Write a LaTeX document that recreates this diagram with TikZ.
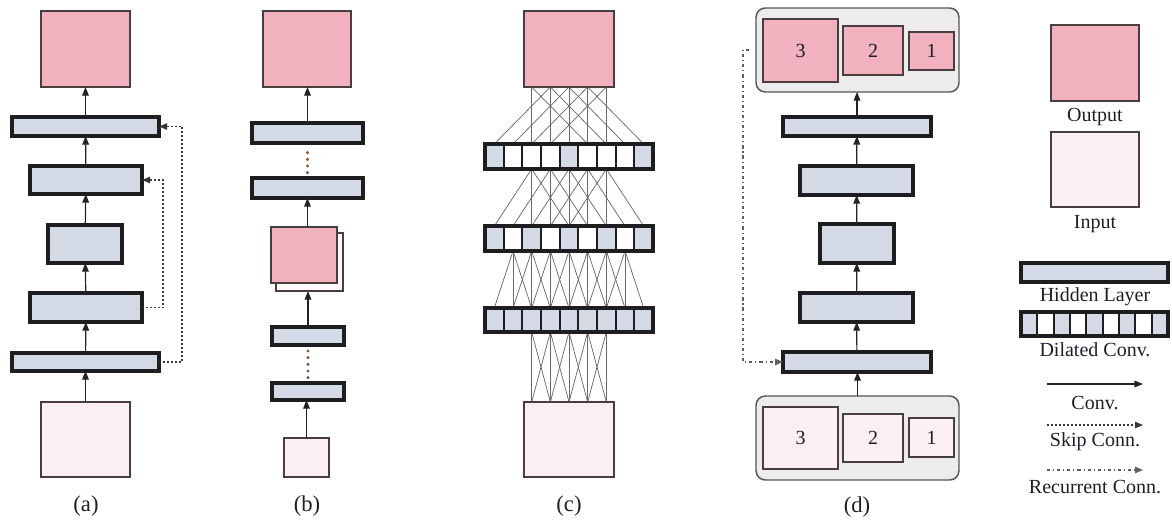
\documentclass[tikz,border=0pt]{standalone}
\usepackage{fontspec}
\setmainfont{Liberation Serif}
\usetikzlibrary{fit,arrows.meta}
\pgfdeclarelayer{background}
\pgfsetlayers{background,main}

\definecolor{outpink}{RGB}{242,177,191}
\definecolor{inpink}{RGB}{252,239,242}
\definecolor{backpink}{RGB}{254,248,249}
\definecolor{hidfill}{RGB}{212,217,230}
\definecolor{grpfill}{RGB}{236,236,236}
\definecolor{grpedge}{RGB}{85,85,85}
\definecolor{boxedge}{RGB}{72,62,64}
\definecolor{hidedge}{RGB}{30,30,32}
\definecolor{linkc}{RGB}{105,105,105}
\definecolor{arrowc}{RGB}{35,35,35}
\definecolor{skipc}{RGB}{55,55,55}
\definecolor{recurc}{RGB}{95,95,95}
\definecolor{dotc}{RGB}{140,85,55}
\definecolor{textc}{RGB}{30,30,40}

\begin{document}
\begin{tikzpicture}[x=0.75pt,y=-0.75pt,
  box/.style={inner sep=0pt,outer sep=0pt},
  digit/.style={text=textc,font=\fontsize{15}{18}\selectfont},
  outbox/.style={box,fill=outpink,draw=boxedge,line width=1.2pt},
  inbox/.style={box,fill=inpink,draw=boxedge,line width=1.2pt},
  backbox/.style={box,fill=backpink,draw=boxedge,line width=0.8pt},
  hid/.style={box,fill=hidfill,draw=hidedge,line width=2.7pt},
  cellbox/.style={box,draw=hidedge,line width=1.4pt},
  rowframe/.style={box,draw=hidedge,line width=2.3pt},
  grp/.style={box,fill=grpfill,draw=grpedge,line width=1.1pt,rounded corners=7pt},
  conv/.style={draw=arrowc,line width=0.9pt,-{Triangle[length=6.5pt,width=5pt]}},
  skip/.style={draw=skipc,line width=1pt,dash pattern=on 1.2pt off 1.8pt,
    -{Triangle[length=6pt,width=4.8pt]}},
  recur/.style={draw=recurc,line width=1pt,
    dash pattern=on 2.4pt off 2.2pt on 0.8pt off 2.2pt,
    -{Triangle[length=6pt,width=4.8pt]}},
  dotsb/.style={draw=dotc,line width=2.6pt,line cap=round,
    dash pattern=on 0pt off 5pt,shorten <=4pt,shorten >=4pt},
  link/.style={draw=linkc,line width=0.55pt},
  lbl/.style={text=textc,font=\fontsize{17}{20}\selectfont},
  leg/.style={text=textc,font=\fontsize{15}{18}\selectfont}
]
\useasboundingbox (0,0) rectangle (1172,522);

% ---------- (a) stacked layers with skip connections ----------
\node[outbox,fit={(41,11) (130,87)}] (aout) {};
\node[hid,fit={(12,117) (159,136)}] (ah1) {};
\node[hid,fit={(30,166) (142,194)}] (ah2) {};
\node[hid,fit={(48,225) (122,263)}] (ah3) {};
\node[hid,fit={(30,293) (142,322)}] (ah4) {};
\node[hid,fit={(12,353) (159,371)}] (ah5) {};
\node[inbox,fit={(41,402) (130,477)}] (ain) {};
\draw[conv] (ain) -- (ah5);
\draw[conv] (ah5) -- (ah4);
\draw[conv] (ah4) -- (ah3);
\draw[conv] (ah3) -- (ah2);
\draw[conv] (ah2) -- (ah1);
\draw[conv] (ah1) -- (aout);
\draw[skip] (ah4.east) -- ++(21,0) |- (ah2.east);
\draw[skip] (ah5.east) -- ++(23,0) |- (ah1.east);
\node[lbl] (la) at (86,506) {(a)};

% ---------- (b) encoder / decoder ----------
\node[outbox,fit={(263,11) (351,87)}] (bout) {};
\node[hid,fit={(252,123) (363,143)}] (bh1) {};
\node[hid,fit={(252,178) (363,198)}] (bh2) {};
\node[backbox,fit={(276,233) (343,291)}] (bback) {};
\node[outbox,fit={(271,227) (337,283)}] (bfront) {};
\node[hid,fit={(272,327) (344,345)}] (bh3) {};
\node[hid,fit={(272,383) (344,400)}] (bh4) {};
\node[inbox,fit={(284,438) (329,477)}] (bin) {};
\draw[conv] (bin) -- (bin |- bh4.south);
\draw[dotsb] (bh4) -- (bh3);
\draw[conv] (bh3) -- (bh3 |- bback.south);
\draw[conv] (bh2 |- bfront.north) -- (bh2.south);
\draw[dotsb] (bh2) -- (bh1);
\draw[conv] (bh1) -- (bh1 |- bout.south);
\node[lbl] (lb) at (307,506) {(b)};

% ---------- (c) dilated convolutions ----------
\node[outbox,fit={(524,11) (614,87)}] (outc) {};
\node[inbox,fit={(524,402) (614,477)}] (inc) {};
\foreach \r/\ya/\yb/\dil in {1/144/169/4, 2/226/251/2, 3/308/332/1} {
  \foreach \i in {1,...,9} {
    \pgfmathsetmacro\xa{485+(\i-1)*168/9}
    \pgfmathsetmacro\xb{485+\i*168/9}
    \pgfmathtruncatemacro\sh{mod(\i-1,\dil)==0 ? 1 : 0}
    \ifnum\sh=1 \def\cf{hidfill}\else\def\cf{white}\fi
    \node[cellbox,fill=\cf,fit={(\xa,\ya) (\xb,\yb)}] (r\r c\i) {};
  }
  \node[rowframe,fit={(485,\ya) (653,\yb)}] (row\r) {};
}
\begin{pgfonlayer}{background}
  \foreach \k in {3,...,7} {
    \foreach \d in {-3,0,3} {
      \pgfmathtruncatemacro\j{\k+\d}
      \ifnum\j>0 \ifnum\j<10
        \draw[link] (outc.south -| r1c\k) -- (r1c\j.north);
      \fi\fi
    }
  }
  \foreach \k in {3,...,7} {
    \foreach \d in {-2,0,2} {
      \pgfmathtruncatemacro\j{\k+\d}
      \draw[link] (r1c\k.south) -- (r2c\j.north);
    }
  }
  \foreach \k in {2,...,8} {
    \foreach \d in {-1,0,1} {
      \pgfmathtruncatemacro\j{\k+\d}
      \draw[link] (r2c\k.south) -- (r3c\j.north);
    }
  }
  \foreach \k in {3,...,7} {
    \foreach \d in {-1,0,1} {
      \pgfmathtruncatemacro\j{\k+\d}
      \ifnum\j>2 \ifnum\j<8
        \draw[link] (r3c\j.south) -- (inc.north -| r3c\k);
      \fi\fi
    }
  }
\end{pgfonlayer}
\node[lbl] (lc) at (569,506) {(c)};

% ---------- (d) multi-scale with recurrence ----------
\node[grp,fit={(756,8) (959,92)}] (dtop) {};
\node[outbox,fit={(763,19) (838,82)},label={[digit]center:3}] (do3) {};
\node[outbox,fit={(843,26) (903,75)},label={[digit]center:2}] (do2) {};
\node[outbox,fit={(909,32) (954,70)},label={[digit]center:1}] (do1) {};
\node[hid,fit={(783,117) (931,136)}] (dh1) {};
\node[hid,fit={(800,166) (913,195)}] (dh2) {};
\node[hid,fit={(820,224) (894,263)}] (dh3) {};
\node[hid,fit={(800,293) (913,322)}] (dh4) {};
\node[hid,fit={(783,352) (931,372)}] (dh5) {};
\node[grp,fit={(756,396) (959,480)}] (dbot) {};
\node[inbox,fit={(763,407) (838,469)},label={[digit]center:3}] (di3) {};
\node[inbox,fit={(843,414) (903,462)},label={[digit]center:2}] (di2) {};
\node[inbox,fit={(909,418) (954,457)},label={[digit]center:1}] (di1) {};
\draw[conv] (dbot) -- (dbot |- dh5.south);
\draw[conv] (dh5) -- (dh4);
\draw[conv] (dh4) -- (dh3);
\draw[conv] (dh3) -- (dh2);
\draw[conv] (dh2) -- (dh1);
\draw[conv] (dh1) -- (dh1 |- dtop.south);
\coordinate (rs) at (749,50);
\draw[recur] (rs) -- (743,50) |- (dh5.west);
\node[lbl] (ld) at (857,507) {(d)};

% ---------- legend ----------
\node[outbox,fit={(1051,25) (1139,101)}] (lout) {};
\node[leg] (tout) at (1095,117) {Output};
\node[inbox,fit={(1051,132) (1139,207)}] (lin) {};
\node[leg] (tin) at (1095,224) {Input};
\node[hid,fit={(1021,263) (1168,282)}] (lhid) {};
\node[leg] (thid) at (1095,297) {Hidden Layer};
\foreach \i in {1,...,9} {
  \pgfmathsetmacro\xa{1021+(\i-1)*147/9}
  \pgfmathsetmacro\xb{1021+\i*147/9}
  \pgfmathtruncatemacro\sh{mod(\i-1,2)==0 ? 1 : 0}
  \ifnum\sh=1 \def\cf{hidfill}\else\def\cf{white}\fi
  \node[cellbox,fill=\cf,fit={(\xa,312) (\xb,336)}] (lg\i) {};
}
\node[rowframe,fit={(1021,312) (1168,336)}] (lgrow) {};
\node[leg] (tdil) at (1095,350) {Dilated Conv.};
\coordinate (ca) at (1047,384);
\coordinate (cb) at (1143,384);
\draw[conv] (ca) -- (cb);
\node[leg] (tconv) at (1095,403) {Conv.};
\coordinate (sa) at (1047,425);
\coordinate (sb) at (1143,425);
\draw[skip] (sa) -- (sb);
\node[leg] (tskip) at (1095,442) {Skip Conn.};
\coordinate (ra) at (1047,470);
\coordinate (rb) at (1143,470);
\draw[recur] (ra) -- (rb);
\node[leg] (trec) at (1095,487) {Recurrent Conn.};
\end{tikzpicture}
\end{document}
